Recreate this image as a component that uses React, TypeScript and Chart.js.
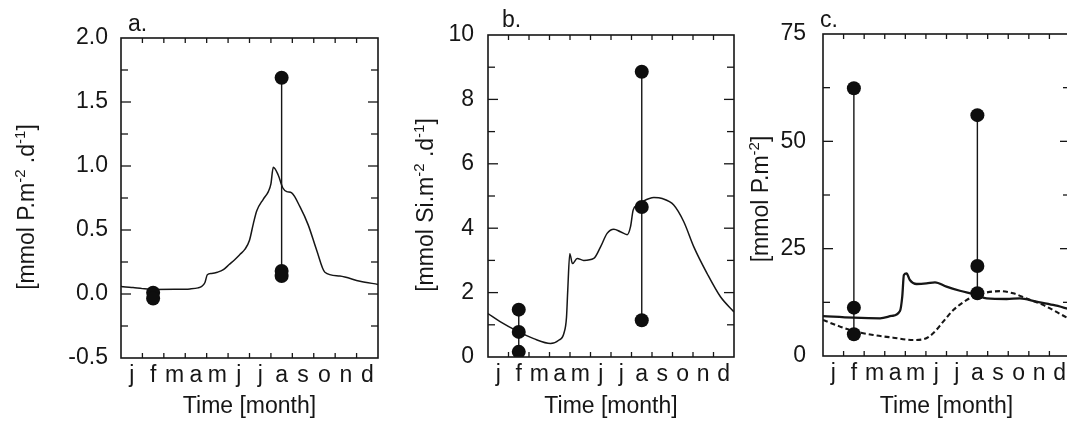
import React, { useEffect, useRef } from 'react';
import { Chart, registerables } from 'chart.js';

Chart.register(...registerables);

const MONTH_LABELS = ['j', 'f', 'm', 'a', 'm', 'j', 'j', 'a', 's', 'o', 'n', 'd'];
const OBS_MONTH_FEB = 1.5;
const OBS_MONTH_AUG = 7.5;

// Panel a: P export flux
const A_CURVE_X = [0, 0.1, 0.56, 1.0, 1.51, 2.5, 3.22, 3.6, 3.77, 3.92, 4.03, 4.23, 4.5, 4.78, 5.05, 5.32, 5.56, 5.79, 6.0, 6.18, 6.34, 6.64, 6.88, 7.0, 7.11, 7.34, 7.55, 7.74, 7.97, 8.36, 8.74, 9.14, 9.52, 10.22, 11.16, 12];
const A_CURVE_Y = [0.06, 0.057, 0.05, 0.042, 0.036, 0.037, 0.04, 0.048, 0.06, 0.09, 0.15, 0.16, 0.17, 0.19, 0.23, 0.27, 0.31, 0.35, 0.42, 0.55, 0.65, 0.74, 0.8, 0.86, 0.99, 0.93, 0.83, 0.8, 0.79, 0.68, 0.54, 0.34, 0.17, 0.14, 0.1, 0.075];
const A_OBS_FEB = [0.01, -0.035];
const A_OBS_AUG = [1.69, 0.18, 0.14];
const A_Y_TICKS = [-0.5, 0.0, 0.5, 1.0, 1.5, 2.0];

// Panel b: Si export flux
const B_CURVE_X = [0, 0.61, 1.5, 2.23, 3.05, 3.45, 3.7, 3.83, 3.89, 3.99, 4.12, 4.35, 4.67, 5.16, 5.49, 5.81, 6.14, 6.46, 6.79, 6.95, 7.08, 7.28, 7.52, 8.09, 8.5, 9.06, 9.55, 10.04, 10.69, 11.34, 12];
const B_CURVE_Y = [1.35, 1.09, 0.78, 0.57, 0.42, 0.52, 0.73, 1.24, 2.07, 3.21, 2.9, 3.06, 3.0, 3.06, 3.42, 3.84, 3.97, 3.89, 3.8, 4.04, 4.56, 4.72, 4.82, 4.95, 4.92, 4.72, 4.2, 3.42, 2.59, 1.87, 1.4];
const B_OBS_FEB = [1.47, 0.78, 0.16];
const B_OBS_AUG = [8.86, 4.66, 1.14];
const B_Y_TICKS = [0, 2, 4, 6, 8, 10];

// Panel c: P standing stock (solid and dashed)
const C_SOLID_X = [0, 1.47, 2.77, 3.33, 3.74, 3.85, 3.93, 4.06, 4.22, 4.55, 5.03, 5.44, 6.0, 6.65, 7.46, 7.95, 8.92, 9.56, 10.37, 11.18, 12];
const C_SOLID_Y = [9.3, 8.93, 8.78, 9.32, 10.48, 13.8, 18.87, 19.25, 17.7, 16.77, 16.9, 17.16, 16.15, 15.2, 14.2, 13.4, 13.28, 13.4, 12.65, 11.88, 10.9];
const C_DASH_X = [0, 0.83, 1.47, 2.44, 3.41, 4.38, 4.87, 5.35, 5.84, 6.33, 6.97, 7.46, 7.95, 8.59, 9.24, 9.89, 10.69, 11.83, 12];
const C_DASH_Y = [8.4, 6.84, 5.82, 4.89, 4.27, 3.73, 3.88, 5.28, 8.0, 10.7, 13.0, 14.2, 14.8, 15.1, 14.6, 13.4, 11.9, 9.0, 8.6];
const C_OBS_FEB = [62.35, 11.26, 5.05];
const C_OBS_AUG = [56.1, 20.96, 14.6];
const C_Y_TICKS = [0, 25, 50, 75];

const FONT = '"Liberation Sans", Arial, Helvetica, sans-serif';
const INK = '#161616';
const CANVAS_H = 425;
const FS = 23;

const zip = (xs: number[], ys: number[]) => xs.map((x, i) => ({ x, y: ys[i] }));
const obs = (x: number, ys: number[]) => ys.map((y) => ({ x, y }));

type Seg = { t: string; sup?: boolean };

const framePlugin = {
  id: 'frame',
  afterDatasetsDraw(chart: any, _args: any, o: any) {
    const { ctx, chartArea } = chart;
    const { left, right, top, bottom } = chartArea;
    const x = chart.scales.x;
    const y = chart.scales.y;
    ctx.save();
    ctx.strokeStyle = INK;
    ctx.lineWidth = 1.6;
    ctx.strokeRect(left, top, right - left, bottom - top);
    ctx.lineWidth = 1.3;
    const seg = (x1: number, y1: number, x2: number, y2: number) => {
      ctx.beginPath();
      ctx.moveTo(x1, y1);
      ctx.lineTo(x2, y2);
      ctx.stroke();
    };
    for (let m = 1; m < 12; m++) {
      const px = x.getPixelForValue(m);
      seg(px, bottom, px, bottom - 5);
      seg(px, top, px, top + 5);
    }
    const n = Math.round((o.yMax - o.yMin) / o.minor);
    const perMajor = Math.round(o.major / o.minor);
    for (let i = 1; i < n; i++) {
      const v = o.yMin + i * o.minor;
      const py = y.getPixelForValue(v);
      const len = i % perMajor === 0 ? 10 : 7;
      seg(left, py, left + len, py);
      seg(right, py, right - len, py);
    }
    // panel letter
    ctx.fillStyle = INK;
    ctx.font = `${FS}px ${FONT}`;
    ctx.textBaseline = 'alphabetic';
    ctx.textAlign = 'left';
    ctx.fillText(o.letter, o.letterX, o.letterY);
    // rotated y title with superscripts
    const segs: Seg[] = o.yTitle;
    const big = `${FS}px ${FONT}`;
    const small = `15px ${FONT}`;
    let total = 0;
    segs.forEach((s) => {
      ctx.font = s.sup ? small : big;
      total += ctx.measureText(s.t).width;
    });
    ctx.translate(o.titleX, o.titleY);
    ctx.rotate(-Math.PI / 2);
    let cx = -total / 2;
    segs.forEach((s) => {
      ctx.font = s.sup ? small : big;
      ctx.fillText(s.t, cx, s.sup ? -1 : 8);
      cx += ctx.measureText(s.t).width;
    });
    ctx.restore();
  },
};

type PanelCfg = {
  canvasLeft: number;
  canvasWidth: number;
  areaLeft: number;
  padRight: number;
  areaTop: number;
  areaBottom: number;
  yMin: number;
  yMax: number;
  yTicks: number[];
  yDecimals: number;
  yMajor: number;
  yMinor: number;
  tickPad: number;
  letter: string;
  letterX: number;
  letterY: number;
  titleX: number;
  titleY: number;
  yTitle: Seg[];
  datasets: any[];
};

const lineDs = (data: any[], width: number, dash: number[] = []) => ({
  data,
  borderColor: INK,
  borderWidth: width,
  borderDash: dash,
  pointRadius: 0,
  showLine: true,
  fill: false,
  cubicInterpolationMode: 'monotone',
  order: 2,
});

const obsDs = (data: any[]) => ({
  data,
  borderColor: INK,
  borderWidth: 1.4,
  pointRadius: 7,
  pointBackgroundColor: '#0e0e0e',
  pointBorderWidth: 0,
  showLine: true,
  fill: false,
  order: 1,
});

function Panel({ cfg }: { cfg: PanelCfg }) {
  const ref = useRef<HTMLCanvasElement | null>(null);
  useEffect(() => {
    if (!ref.current) return;
    const chart = new Chart(ref.current, {
      type: 'scatter',
      data: { datasets: cfg.datasets },
      plugins: [framePlugin],
      options: {
        animation: false,
        responsive: false,
        devicePixelRatio: 1,
        layout: { padding: { top: cfg.areaTop, right: cfg.padRight, bottom: 0, left: 0 } },
        plugins: {
          legend: { display: false },
          tooltip: { enabled: false },
          frame: {
            yMin: cfg.yMin,
            yMax: cfg.yMax,
            major: cfg.yMajor,
            minor: cfg.yMinor,
            letter: cfg.letter,
            letterX: cfg.letterX,
            letterY: cfg.letterY,
            titleX: cfg.titleX,
            titleY: cfg.titleY,
            yTitle: cfg.yTitle,
          },
        } as any,
        scales: {
          x: {
            type: 'linear',
            min: 0,
            max: 12,
            grid: { display: false, drawTicks: false },
            border: { display: false },
            afterBuildTicks: (s: any) => {
              s.ticks = MONTH_LABELS.map((_, i) => ({ value: i + 0.5 }));
            },
            afterFit: (s: any) => {
              s.height = CANVAS_H - cfg.areaBottom;
            },
            ticks: {
              autoSkip: false,
              maxRotation: 0,
              minRotation: 0,
              padding: 4,
              color: INK,
              font: { family: FONT, size: FS },
              callback: (_v: any, i: number) => MONTH_LABELS[i],
            },
            title: {
              display: true,
              text: 'Time [month]',
              color: INK,
              font: { family: FONT, size: FS, lineHeight: 1.2 },
              padding: { top: 0, bottom: 5 },
            },
          },
          y: {
            type: 'linear',
            min: cfg.yMin,
            max: cfg.yMax,
            grid: { display: false, drawTicks: false },
            border: { display: false },
            afterBuildTicks: (s: any) => {
              s.ticks = cfg.yTicks.map((v) => ({ value: v }));
            },
            afterFit: (s: any) => {
              s.width = cfg.areaLeft;
            },
            ticks: {
              padding: cfg.tickPad,
              color: INK,
              font: { family: FONT, size: FS },
              callback: (v: any) => Number(v).toFixed(cfg.yDecimals),
            },
          },
        },
      } as any,
    });
    return () => chart.destroy();
  }, [cfg]);
  return (
    <canvas
      ref={ref}
      width={cfg.canvasWidth}
      height={CANVAS_H}
      style={{ position: 'absolute', left: cfg.canvasLeft, top: 0, width: cfg.canvasWidth, height: CANVAS_H }}
    />
  );
}

const PANELS: PanelCfg[] = [
  {
    canvasLeft: 0,
    canvasWidth: 395,
    areaLeft: 121,
    padRight: 17,
    areaTop: 38,
    areaBottom: 358,
    yMin: -0.5,
    yMax: 2.0,
    yTicks: A_Y_TICKS,
    yDecimals: 1,
    yMajor: 0.5,
    yMinor: 0.25,
    tickPad: 13,
    letter: 'a.',
    letterX: 128,
    letterY: 31,
    titleX: 26,
    titleY: 207,
    yTitle: [{ t: '[mmol P.m' }, { t: '-2', sup: true }, { t: ' .d' }, { t: '-1', sup: true }, { t: ']' }],
    datasets: [
      lineDs(zip(A_CURVE_X, A_CURVE_Y), 1.5),
      obsDs(obs(OBS_MONTH_FEB, A_OBS_FEB)),
      obsDs(obs(OBS_MONTH_AUG, A_OBS_AUG)),
    ],
  },
  {
    canvasLeft: 395,
    canvasWidth: 350,
    areaLeft: 93,
    padRight: 11,
    areaTop: 35,
    areaBottom: 357,
    yMin: 0,
    yMax: 10,
    yTicks: B_Y_TICKS,
    yDecimals: 0,
    yMajor: 2,
    yMinor: 1,
    tickPad: 14,
    letter: 'b.',
    letterX: 107,
    letterY: 27,
    titleX: 30,
    titleY: 205,
    yTitle: [{ t: '[mmol Si.m' }, { t: '-2', sup: true }, { t: ' .d' }, { t: '-1', sup: true }, { t: ']' }],
    datasets: [
      lineDs(zip(B_CURVE_X, B_CURVE_Y), 1.5),
      obsDs(obs(OBS_MONTH_FEB, B_OBS_FEB)),
      obsDs(obs(OBS_MONTH_AUG, B_OBS_AUG)),
    ],
  },
  {
    canvasLeft: 745,
    canvasWidth: 340,
    areaLeft: 78,
    padRight: 15,
    areaTop: 34,
    areaBottom: 356,
    yMin: 0,
    yMax: 75,
    yTicks: C_Y_TICKS,
    yDecimals: 0,
    yMajor: 25,
    yMinor: 12.5,
    tickPad: 17,
    letter: 'c.',
    letterX: 75,
    letterY: 27,
    titleX: 15,
    titleY: 199,
    yTitle: [{ t: '[mmol P.m' }, { t: '-2', sup: true }, { t: ']' }],
    datasets: [
      lineDs(zip(C_SOLID_X, C_SOLID_Y), 2.3),
      lineDs(zip(C_DASH_X, C_DASH_Y), 2.1, [5, 3]),
      obsDs(obs(OBS_MONTH_FEB, C_OBS_FEB)),
      obsDs(obs(OBS_MONTH_AUG, C_OBS_AUG)),
    ],
  },
];

export default function App() {
  return (
    <div
      style={{
        position: 'fixed',
        left: 0,
        top: 0,
        width: 1067,
        height: CANVAS_H,
        overflow: 'hidden',
        background: '#fff',
      }}
    >
      {PANELS.map((p, i) => (
        <Panel key={i} cfg={p} />
      ))}
    </div>
  );
}
